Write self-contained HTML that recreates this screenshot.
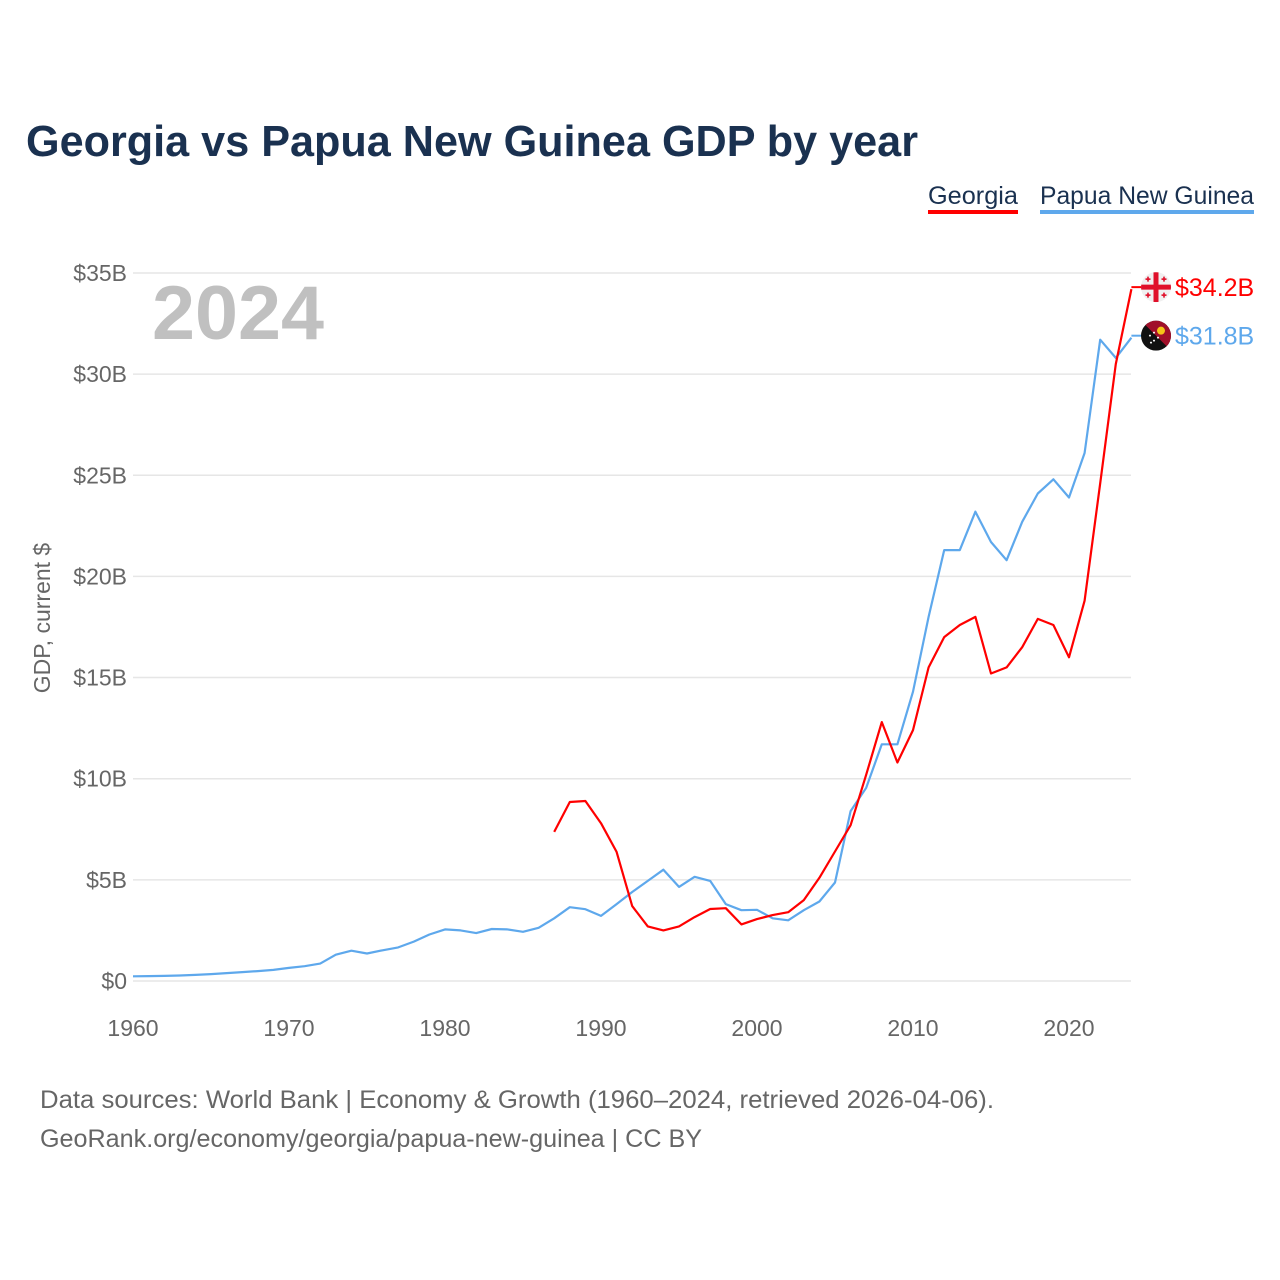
<!DOCTYPE html>
<html><head><meta charset="utf-8">
<style>
body{margin:0;background:#fff;font-family:"Liberation Sans",sans-serif;}
svg{display:block}
</style></head>
<body>
<svg id="chart" width="1280" height="1280" viewBox="0 0 1280 1280">
<defs>
<clipPath id="c1"><circle cx="1156" cy="289" r="15"/></clipPath>
</defs>
<text x="26" y="156" font-size="44" font-weight="bold" fill="#1a3150" textLength="892" lengthAdjust="spacingAndGlyphs">Georgia vs Papua New Guinea GDP by year</text>
<g>
<text x="928" y="204" font-size="25" fill="#1a3150" textLength="90" lengthAdjust="spacingAndGlyphs">Georgia</text>
<rect x="928" y="210" width="90" height="4" fill="#ff0000"/>
<text x="1040" y="204" font-size="25" fill="#1a3150" textLength="214" lengthAdjust="spacingAndGlyphs">Papua New Guinea</text>
<rect x="1040" y="210" width="214" height="4" fill="#5ea8ec"/>
</g>
<g id="grid"></g>
<g id="yticks"></g>
<g id="xticks"></g>
<text x="152" y="339" font-size="76" font-weight="bold" fill="#c0c0c0" textLength="172" lengthAdjust="spacingAndGlyphs">2024</text>
<text transform="translate(50,618) rotate(-90)" text-anchor="middle" font-size="23" fill="#666">GDP, current $</text>
<g id="lines"></g>
<g id="endlabels"></g>
<text x="40" y="1108" font-size="25" fill="#666" textLength="954" lengthAdjust="spacingAndGlyphs">Data sources: World Bank | Economy &amp; Growth (1960–2024, retrieved 2026-04-06).</text>
<text x="40" y="1147" font-size="25" fill="#666" textLength="662" lengthAdjust="spacingAndGlyphs">GeoRank.org/economy/georgia/papua-new-guinea | CC BY</text>
</svg>
<script>
const yTickValues=[0,5,10,15,20,25,30,35];
const yTickLabels=["$0","$5B","$10B","$15B","$20B","$25B","$30B","$35B"];
const xTickValues=[1960,1970,1980,1990,2000,2010,2020];
const georgiaStart=1987;
const georgiaValues=[7.37,8.85,8.9,7.8,6.38,3.7,2.7,2.5,2.7,3.16,3.56,3.6,2.8,3.06,3.26,3.4,4.0,5.1,6.4,7.7,10.2,12.8,10.8,12.4,15.5,17.0,17.6,18.0,15.2,15.5,16.5,17.9,17.6,16.0,18.8,24.6,30.5,34.2];
const pngStart=1960;
const pngValues=[0.23,0.24,0.25,0.27,0.3,0.34,0.39,0.44,0.49,0.55,0.65,0.73,0.86,1.3,1.5,1.36,1.52,1.66,1.95,2.3,2.55,2.5,2.37,2.57,2.55,2.43,2.63,3.1,3.65,3.55,3.22,3.8,4.4,4.95,5.5,4.65,5.15,4.95,3.8,3.5,3.52,3.1,3.0,3.5,3.93,4.87,8.4,9.55,11.7,11.7,14.3,18.0,21.3,21.3,23.2,21.7,20.8,22.7,24.1,24.8,23.9,26.1,31.7,30.8,31.8];
const NS="http://www.w3.org/2000/svg";
const xs=y=>133+(y-1960)*15.6;
const ys=v=>981-v*20.23;
function mk(tag,attrs,parent){const e=document.createElementNS(NS,tag);for(const k in attrs)e.setAttribute(k,attrs[k]);parent.appendChild(e);return e;}
const grid=document.getElementById('grid'),yt=document.getElementById('yticks'),xt=document.getElementById('xticks'),lines=document.getElementById('lines'),el=document.getElementById('endlabels');
yTickValues.forEach((v,i)=>{
 const l=mk('line',{x1:133,x2:1131,y1:ys(v),y2:ys(v),stroke:'#e6e6e6','stroke-width':1.5},grid);
 
 
 const t=mk('text',{x:127,y:ys(v)+8,'text-anchor':'end','font-size':23,fill:'#666'},yt);
 t.textContent=yTickLabels[i];
 
 
});
xTickValues.forEach(v=>{
 const t=mk('text',{x:xs(v),y:1036,'text-anchor':'middle','font-size':23,fill:'#666'},xt);
 t.textContent=v;
 
 
});
function line(start,vals,color,name){
 const d=vals.map((v,i)=>(i?'L':'M')+xs(start+i).toFixed(1)+','+ys(v).toFixed(1)).join('');
 const p=mk('path',{d:d,fill:'none',stroke:color,'stroke-width':2.2,'stroke-linejoin':'round'},lines);
 
 
}
line(pngStart,pngValues,'#5ea8ec','line-papua-new-guinea');
line(georgiaStart,georgiaValues,'#ff0000','line-georgia');
let clipN=0;
function endLabel(v,color,txt,name,flag){
 const y=ys(v)-2,x=xs(2024);
 mk('line',{x1:x,x2:x+10,y1:y,y2:y,stroke:color,'stroke-width':2},el);
 const cx=1156;
 const defs=document.querySelector('defs');
 const cid='fc'+(clipN++);
 const cp=mk('clipPath',{id:cid},defs);
 mk('circle',{cx:cx,cy:y,r:15},cp);
 const g=mk('g',{'clip-path':'url(#'+cid+')'},el);
 
 
 if(flag==='ge'){
  mk('rect',{x:cx-15,y:y-15,width:30,height:30,fill:'#f0f0f0'},g);
  mk('rect',{x:cx-15,y:y-2.5,width:30,height:5,fill:'#e0102a'},g);
  mk('rect',{x:cx-2.5,y:y-15,width:5,height:30,fill:'#e0102a'},g);
  [[-8,-8],[8,-8],[-8,8],[8,8]].forEach(o=>{mk('rect',{x:cx+o[0]-2.5,y:y+o[1]-0.8,width:5,height:1.6,fill:'#e0102a'},g);mk('rect',{x:cx+o[0]-0.8,y:y+o[1]-2.5,width:1.6,height:5,fill:'#e0102a'},g);});
 }else{
  mk('rect',{x:cx-15,y:y-15,width:30,height:30,fill:'#111'},g);
  mk('path',{d:`M${cx-15},${y-15}L${cx+15},${y-15}L${cx+15},${y+15}Z`,fill:'#a0102a'},g);
  mk('circle',{cx:cx+5,cy:y-5,r:4,fill:'#f5c518'},g);
  [[-6,0],[-2,-3],[-2,5],[2,2],[-5,7]].forEach(o=>mk('circle',{cx:cx+o[0],cy:y+o[1],r:1,fill:'#fff'},g));
 }
 const t=mk('text',{x:1175,y:y+9,'font-size':25,fill:color},el);
 t.textContent=txt;
 
 
}
document.getElementById('c1').remove();
endLabel(georgiaValues[georgiaValues.length-1],'#ff0000','$34.2B','georgia-end','ge');
endLabel(pngValues[pngValues.length-1],'#5ea8ec','$31.8B','png-end','pg');
</script>
</body></html>
